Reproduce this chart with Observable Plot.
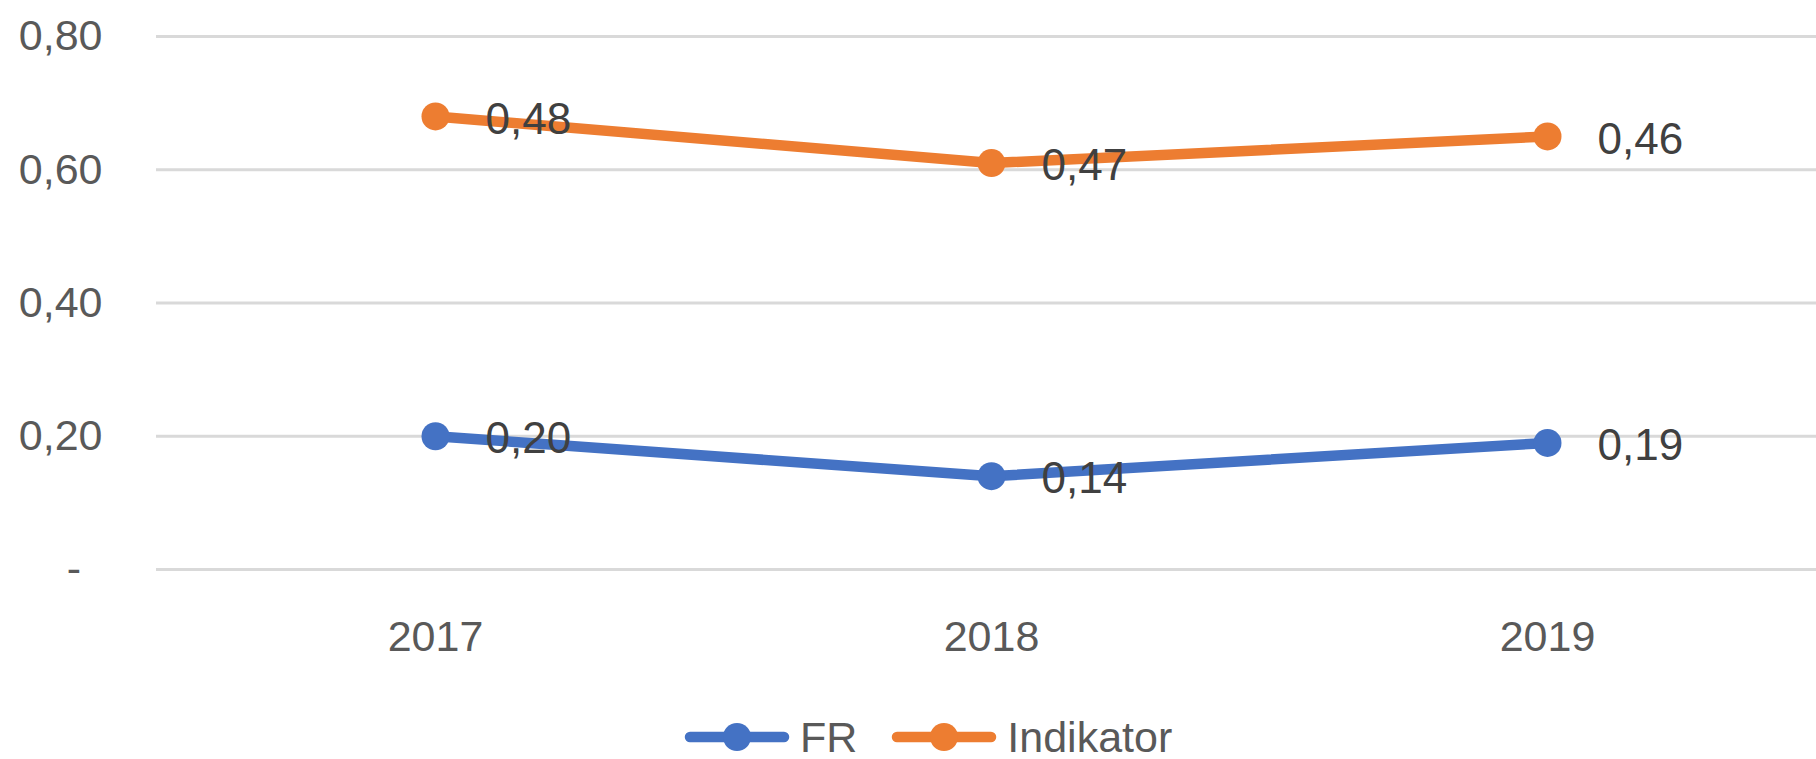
<!DOCTYPE html>
<html>
<head>
<meta charset="utf-8">
<script src="https://cdn.jsdelivr.net/npm/d3@7"></script>
<script src="https://cdn.jsdelivr.net/npm/@observablehq/plot@0.6"></script>
<style>
  html, body { margin: 0; padding: 0; background: #fff; overflow: hidden; }
  #chart svg { display: block; }
  #legend { display: flex; align-items: center; height: 44px; margin-top: 22px; padding-left: 684px;
            font-family: "Liberation Sans", Arial, sans-serif; font-size: 43px; color: #595959; }
  #legend .item { display: flex; align-items: center; margin-right: 34px; }
  #legend svg { display: block; margin-right: 10px; }
</style>
</head>
<body>
<div id="chart"></div>
<div id="legend"></div>
<script>
const years = ["2017", "2018", "2019"];
const seriesNames = ["FR", "Indikator"];
const frValues = [0.20, 0.14, 0.19];
const indikatorValues = [0.48, 0.47, 0.46];
const yTicks = [0, 0.2, 0.4, 0.6, 0.8];
const seriesColors = ["#4472C4", "#ED7D31"];

const data = [
  ...years.map((y, i) => ({year: y, series: "FR", value: frValues[i]})),
  ...years.map((y, i) => ({year: y, series: "Indikator", value: indikatorValues[i]}))
];

const fmt = v => v.toFixed(2).replace(".", ",");
const fmtAxis = v => v === 0 ? "-\u2002" : fmt(v);

const chart = Plot.plot({
  width: 1816,
  height: 693,
  marginLeft: 156,
  marginRight: 0,
  marginTop: 36,
  marginBottom: 124,
  style: {fontFamily: "Liberation Sans, Arial, sans-serif", fontSize: "43px", color: "#595959", background: "#fff"},
  x: {type: "point", domain: years, range: [435, 1547], padding: 0, label: null},
  y: {domain: [0, 0.8], label: null},
  color: {domain: seriesNames, range: seriesColors},
  marks: [
    Plot.ruleY(yTicks, {stroke: "#d9d9d9", strokeWidth: 3}),
    Plot.axisY({ticks: yTicks, tickSize: 0, tickPadding: 54, tickFormat: fmtAxis, fontSize: 43, label: null}),
    Plot.axisX({tickSize: 0, tickPadding: 51, fontSize: 43, label: null}),
    Plot.lineY(data, Plot.stackY2({x: "year", y: "value", z: "series", stroke: "series", strokeWidth: 10.5, strokeLinejoin: "round"})),
    Plot.dot(data, Plot.stackY2({x: "year", y: "value", z: "series", fill: "series", r: 14, stroke: null})),
    Plot.text(data, Plot.stackY2({x: "year", y: "value", z: "series", text: d => fmt(d.value), textAnchor: "start", dx: 50, dy: 3, fill: "#404040", fontSize: 44}))
  ]
});
document.getElementById("chart").appendChild(chart);

const legend = d3.select("#legend");
seriesNames.forEach((name, i) => {
  const item = legend.append("div").attr("class", "item");
  const sw = item.append("svg").attr("width", 106).attr("height", 32);
  sw.append("line").attr("x1", 6).attr("x2", 100).attr("y1", 16).attr("y2", 16)
    .attr("stroke", seriesColors[i]).attr("stroke-width", 10.5).attr("stroke-linecap", "round");
  sw.append("circle").attr("cx", 53).attr("cy", 16).attr("r", 14).attr("fill", seriesColors[i]);
  item.append("span").text(name);
});
</script>
</body>
</html>
